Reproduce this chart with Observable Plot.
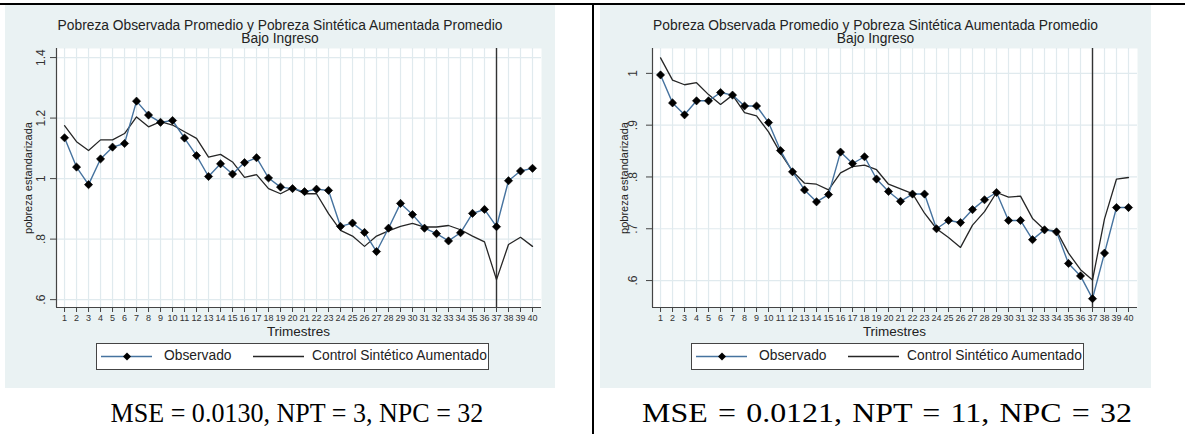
<!DOCTYPE html>
<html>
<head>
<meta charset="utf-8">
<script src="https://cdn.jsdelivr.net/npm/d3@7"></script>
<script src="https://cdn.jsdelivr.net/npm/@observablehq/plot@0.6"></script>
<style>
  html, body { margin: 0; padding: 0; background: #ffffff; }
  body { width: 1185px; height: 434px; position: relative; overflow: hidden; font-family: "Liberation Sans", Arial, sans-serif; }
  .rule-h { position: absolute; left: 0; top: 3px; width: 1185px; height: 1.5px; background: #000; }
  .rule-v { position: absolute; left: 592px; top: 3px; width: 1.5px; height: 431px; background: #000; }
  .panel { position: absolute; top: 5px; height: 383px; background: #EAF2F3; }
  .panel svg { position: absolute; left: 0; top: 0; }
  .title { position: absolute; left: 0; width: 100%; text-align: center; font-size: 13.8px; line-height: 13.8px; color: #222; white-space: nowrap; }
  .ylab { position: absolute; font-size: 11px; line-height: 11px; color: #222; white-space: nowrap; transform: translate(-50%, -50%) rotate(-90deg); }
  .xlab { position: absolute; font-size: 13.5px; line-height: 13.5px; color: #222; white-space: nowrap; transform: translateX(-50%); }
  .legend { position: absolute; box-sizing: border-box; height: 27px; width: 393px; background: #fff; border: 1px solid #444; font-size: 13.8px; color: #222; }
  .legend svg { position: absolute; top: 0; }
  .legend span { position: absolute; top: 5px; line-height: 14px; white-space: nowrap; }
  .caption { position: absolute; top: 398px; font-family: "Liberation Serif", "Times New Roman", serif; font-size: 28px; line-height: 30px; color: #000; white-space: nowrap; transform-origin: 50% 50%; }
</style>
</head>
<body>
<div class="rule-h"></div>
<div class="rule-v"></div>
<script>
// ---- Data ----
const trimestres = [1,2,3,4,5,6,7,8,9,10,11,12,13,14,15,16,17,18,19,20,21,22,23,24,25,26,27,28,29,30,31,32,33,34,35,36,37,38,39,40];

const observadoA = [1.135,1.038,0.980,1.065,1.104,1.116,1.256,1.210,1.186,1.192,1.134,1.076,1.007,1.049,1.015,1.053,1.069,1.002,0.972,0.967,0.957,0.965,0.961,0.842,0.853,0.822,0.759,0.836,0.918,0.881,0.836,0.818,0.794,0.821,0.885,0.898,0.841,0.993,1.025,1.034];
const sinteticoA = [1.175,1.122,1.093,1.128,1.128,1.149,1.204,1.171,1.188,1.177,1.155,1.133,1.071,1.080,1.055,1.004,1.013,0.967,0.950,0.970,0.950,0.950,0.884,0.829,0.810,0.776,0.810,0.827,0.842,0.852,0.840,0.840,0.845,0.831,0.810,0.791,0.666,0.782,0.806,0.776];

const observadoB = [0.997,0.943,0.920,0.947,0.947,0.963,0.958,0.937,0.937,0.905,0.851,0.810,0.775,0.752,0.766,0.848,0.826,0.839,0.796,0.772,0.753,0.767,0.767,0.700,0.716,0.712,0.737,0.756,0.770,0.716,0.716,0.679,0.698,0.694,0.633,0.609,0.565,0.653,0.741,0.741];
const sinteticoB = [1.030,0.987,0.978,0.982,0.959,0.940,0.958,0.924,0.918,0.887,0.846,0.811,0.788,0.786,0.775,0.808,0.820,0.823,0.814,0.786,0.777,0.768,0.730,0.700,0.683,0.664,0.707,0.733,0.770,0.761,0.763,0.720,0.698,0.696,0.653,0.621,0.601,0.719,0.796,0.799];

const yTicksA = [0.6, 0.8, 1.0, 1.2, 1.4];
const yLabelsA = [".6", ".8", "1", "1.2", "1.4"];
const yTicksB = [0.6, 0.7, 0.8, 0.9, 1.0];
const yLabelsB = [".6", ".7", ".8", ".9", "1"];

const tratamiento = 37;
const tituloL1 = "Pobreza Observada Promedio y Pobreza Sintética Aumentada Promedio";
const tituloL2 = "Bajo Ingreso";
const ejeY = "pobreza estandarizada";
const ejeX = "Trimestres";
const serieObs = "Observado";
const serieSint = "Control Sintético Aumentado";
const captionA = "MSE = 0.0130, NPT = 3, NPC = 32";
const captionB = "MSE = 0.0121, NPT = 11, NPC = 32";

// ---- Drawing ----
const obsColor = "#46739f";
const synthColor = "#262626";
const gridColor = "#e0eaee";

function panel(cfg) {
  const div = document.createElement("div");
  div.className = "panel";
  div.style.left = cfg.left + "px";
  div.style.width = cfg.width + "px";
  document.body.appendChild(div);

  const rows = trimestres.map((t, i) => ({t, obs: cfg.obs[i], synth: cfg.synth[i]}));
  const labelOf = new Map(cfg.yTicks.map((v, i) => [v, cfg.yLabels[i]]));
  const H = 383, mt = 43, mb = 81;

  const chart = Plot.plot({
    width: cfg.width,
    height: H,
    marginLeft: cfg.ml,
    marginRight: cfg.mr,
    marginTop: mt,
    marginBottom: mb,
    style: {background: "transparent", fontFamily: "'Liberation Sans', Arial, sans-serif", color: "#333"},
    x: {domain: [0.33, 40.75]},
    y: {domain: cfg.yDomain},
    marks: [
      Plot.frame({fill: "white", stroke: null}),
      Plot.gridX(trimestres, {stroke: gridColor, strokeOpacity: 1, strokeWidth: 1.2}),
      Plot.gridY(cfg.yTicks, {stroke: gridColor, strokeOpacity: 1, strokeWidth: 1.2}),
      Plot.ruleX([tratamiento], {stroke: "#333", strokeWidth: 1.4}),
      Plot.line(rows, {x: "t", y: "synth", stroke: synthColor, strokeWidth: 1.3}),
      Plot.line(rows, {x: "t", y: "obs", stroke: obsColor, strokeWidth: 1.4}),
      Plot.dot(rows, {x: "t", y: "obs", symbol: "diamond2", fill: "black", stroke: "black", strokeWidth: 0.6, r: 3.7}),
      Plot.ruleX([cfg.xDomain0], {stroke: "#444", strokeWidth: 1.2}),
      Plot.ruleY([cfg.yDomain[0]], {stroke: "#444", strokeWidth: 1.2}),
      Plot.axisX({ticks: trimestres, tickSize: 5, tickPadding: 2.5, fontSize: 9, label: null, stroke: "#444", fill: "#333", tickFormat: d => String(d)}),
      Plot.axisY({ticks: cfg.yTicks, tickSize: 6, tickPadding: cfg.ypad, tickRotate: -90, fontSize: 12, label: null, stroke: "#444", fill: "#333", tickFormat: d => labelOf.get(d)})
    ]
  });
  div.appendChild(chart);

  const t1 = document.createElement("div");
  t1.className = "title"; t1.style.top = "13.8px"; t1.textContent = tituloL1;
  div.appendChild(t1);
  const t2 = document.createElement("div");
  t2.className = "title"; t2.style.top = "26.8px"; t2.textContent = tituloL2;
  div.appendChild(t2);

  const plotCenterX = cfg.ml + (cfg.width - cfg.ml - cfg.mr) / 2;
  const plotCenterY = mt + (H - mt - mb) / 2;

  const yl = document.createElement("div");
  yl.className = "ylab"; yl.style.left = (cfg.ml - 28) + "px"; yl.style.top = plotCenterY + "px"; yl.textContent = ejeY;
  div.appendChild(yl);

  const xl = document.createElement("div");
  xl.className = "xlab"; xl.style.left = plotCenterX + "px"; xl.style.top = "319.5px"; xl.textContent = ejeX;
  div.appendChild(xl);

  const lg = document.createElement("div");
  lg.className = "legend"; lg.style.left = "91px"; lg.style.top = "338px";
  lg.innerHTML =
    `<svg width="60" height="25" style="left:3px">
       <line x1="1" y1="12.5" x2="52" y2="12.5" stroke="${obsColor}" stroke-width="1.3"/>
       <path d="M27,8.5 L31,12.5 L27,16.5 L23,12.5 Z" fill="black"/>
     </svg>
     <span style="left:67px">${serieObs}</span>
     <svg width="60" height="25" style="left:155px">
       <line x1="1" y1="12.5" x2="52" y2="12.5" stroke="${synthColor}" stroke-width="1.3"/>
     </svg>
     <span style="left:215px">${serieSint}</span>`;
  div.appendChild(lg);

  const cap = document.createElement("div");
  cap.className = "caption";
  cap.style.left = cfg.capX + "px";
  cap.style.wordSpacing = cfg.capWordSpacing + "px";
  cap.style.transform = `translateX(-50%) scaleX(${cfg.capScale})`;
  cap.textContent = cfg.caption;
  document.body.appendChild(cap);
}

panel({left: 5, width: 550, ml: 51, mr: 14, ypad: 6, obs: observadoA, synth: sinteticoA,
       yTicks: yTicksA, yLabels: yLabelsA, yDomain: [0.574, 1.43], xDomain0: 0.33,
       caption: captionA, capX: 296.5, capScale: 0.93, capWordSpacing: 0});
panel({left: 600, width: 551, ml: 52, mr: 14, ypad: 10, obs: observadoB, synth: sinteticoB,
       yTicks: yTicksB, yLabels: yLabelsB, yDomain: [0.548, 1.048], xDomain0: 0.33,
       caption: captionB, capX: 887, capScale: 1.14, capWordSpacing: 2});
</script>
</body>
</html>
